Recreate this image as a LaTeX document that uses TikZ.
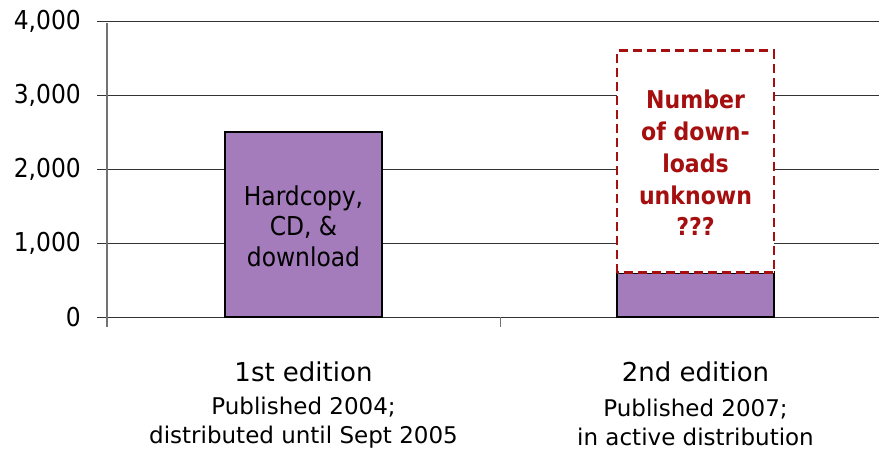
\documentclass[tikz,border=0pt]{standalone}
\usepackage{fontspec}
\setmainfont{DejaVu Sans}
\newfontfamily\condensed{DejaVu Sans Condensed}
\usetikzlibrary{positioning}
\definecolor{barfill}{HTML}{A47BBB}
\definecolor{unknownred}{HTML}{A50F0F}
\tikzset{
  grid line/.style={draw=black!80, line width=0.9pt},
  bar/.style={draw=black, line width=2.6pt, fill=barfill},
  ticklabel/.style={anchor=east, inner sep=0pt, font=\condensed\fontsize{26}{30}\selectfont},
  catlabel/.style={align=center, inner sep=0pt, font=\fontsize{23}{29.5}\selectfont},
}
\begin{document}
\begin{tikzpicture}[x=1pt, y=1pt]
      \useasboundingbox (0,0) rectangle (881,451);
      % value axis: 74 units per 1000
      \begin{scope}[shift={(0,134)}]
        \foreach \v/\lab in {0/0, 1/{1,000}, 2/{2,000}, 3/{3,000}, 4/{4,000}} {
          \draw[grid line] (97,74*\v) -- (879,74*\v);
          \node[ticklabel] (y\v) at (81,74*\v) {\lab};
        }
        \draw[black!55, line width=1.2pt] (107,-10) -- (107,294);
        \draw[black!55, line width=0.9pt] (500,0) -- (500,-10);
        % bars
        \draw[bar] (225,0) rectangle (382,185);
        \draw[bar] (617,0) rectangle (774,44.4);
        \draw[unknownred, line width=2.8pt, dash pattern=on 9pt off 5pt, fill=white]
          (617,44.4) rectangle (774,266.4);
        \node[align=center, font=\condensed\fontsize{26}{30.5}\selectfont] (first) at (303.5,91)
          {Hardcopy,\\CD, \&\\download};
        \node[align=center, text=unknownred, font=\condensed\bfseries\fontsize{24.5}{31.7}\selectfont]
          (second) at (695.5,154) {Number\\of down-\\loads\\unknown\\???};
      \end{scope}
      % category labels
      \node[catlabel, font=\fontsize{26}{30}\selectfont] (ed1) at (303.5,79) {1st edition};
      \node[catlabel] (pub1) at (303.5,28.5) {Published 2004;\\distributed until Sept 2005};
      \node[catlabel, font=\fontsize{26}{30}\selectfont] (ed2) at (695.5,79) {2nd edition};
      \node[catlabel] (pub2) at (695.5,28.5) {Published 2007;\\in active distribution};
    \end{tikzpicture}
\end{document}
